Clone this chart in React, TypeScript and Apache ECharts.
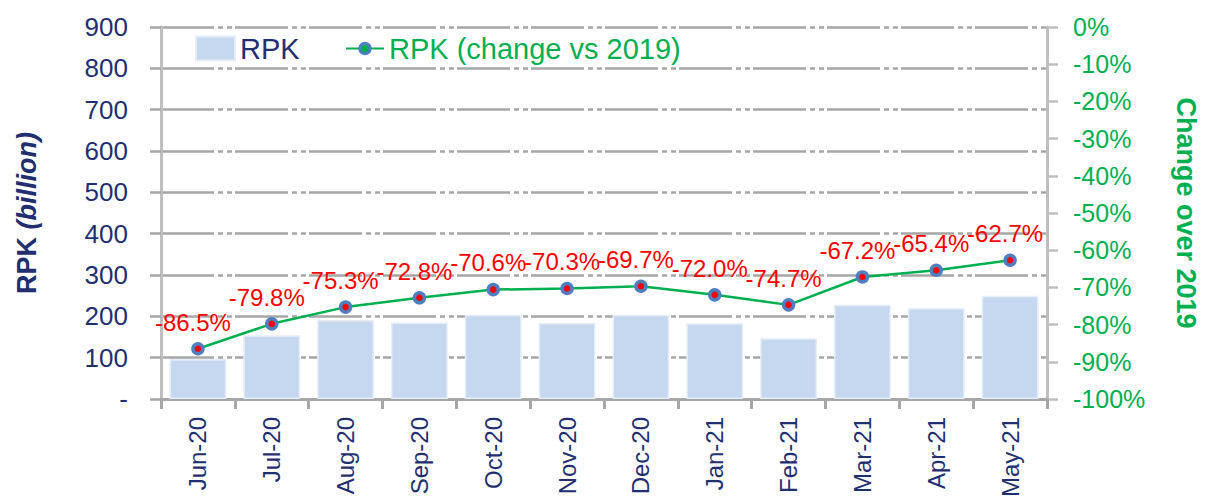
import React, { useEffect, useRef } from "react";
import * as echarts from "echarts";

const categories = ["Jun-20", "Jul-20", "Aug-20", "Sep-20", "Oct-20", "Nov-20", "Dec-20", "Jan-21", "Feb-21", "Mar-21", "Apr-21", "May-21"];
const rpkValues = [97, 154, 191, 185, 204, 184, 204, 183, 147, 228, 220, 250];
const changeVs2019 = [-86.5, -79.8, -75.3, -72.8, -70.6, -70.3, -69.7, -72.0, -74.7, -67.2, -65.4, -62.7];
const barName = "RPK";
const lineName = "RPK (change vs 2019)";
const leftAxisName = "RPK {i|(billion)}";
const rightAxisName = "Change over 2019";

const FONT = "Liberation Sans, Arial, sans-serif";
const NAVY = "#1f2f6f";
const GREEN = "#00b050";
const RED = "#ff0000";
const MARKER_BLUE = "#4f7fc0";
const BAR = "#c6d8f0";

export default function App() {
  const ref = useRef<HTMLDivElement>(null);
  useEffect(() => {
    if (!ref.current) return;
    const chart = echarts.init(ref.current, undefined, { renderer: "svg" });
    chart.setOption({
      animation: false,
      backgroundColor: "#ffffff",
      textStyle: { fontFamily: FONT },
      grid: { left: 161, right: 155, top: 27, bottom: 100, containLabel: false },
      legend: [
        {
          data: [{ name: barName, icon: "rect" }],
          left: 195,
          top: 34,
          padding: 0,
          itemWidth: 39,
          itemHeight: 24,
          textStyle: { fontSize: 29, color: NAVY, fontFamily: FONT },
          selectedMode: false,
        },
        {
          data: [
            {
              name: lineName,
              itemStyle: { color: GREEN, borderColor: MARKER_BLUE, borderWidth: 3 },
            },
          ],
          left: 345,
          top: 34,
          padding: 0,
          itemWidth: 38,
          itemHeight: 13,
          textStyle: { fontSize: 29, color: GREEN, fontFamily: FONT },
          selectedMode: false,
        },
      ],
      xAxis: {
        type: "category",
        data: categories,
        boundaryGap: true,
        axisLine: { show: true, lineStyle: { color: "#a6a6a6", width: 3 } },
        axisTick: { show: true, length: 10, lineStyle: { color: "#a6a6a6", width: 3 } },
        axisLabel: {
          rotate: 90,
          margin: 18,
          color: NAVY,
          fontSize: 24,
          fontFamily: FONT,
          interval: 0,
        },
        splitLine: { show: false },
      },
      yAxis: [
        {
          type: "value",
          min: 0,
          max: 900,
          interval: 100,
          position: "left",
          name: leftAxisName,
          nameLocation: "middle",
          nameRotate: 90,
          nameGap: 121,
          nameTextStyle: {
            fontSize: 27,
            fontWeight: "bold",
            color: NAVY,
            fontFamily: FONT,
            rich: {
              i: { fontSize: 27, fontWeight: "bold", fontStyle: "italic", color: NAVY, fontFamily: FONT },
            },
          },
          axisLine: { show: true, lineStyle: { color: "#bfbfbf", width: 3 } },
          axisTick: { show: true, length: 11, lineStyle: { color: "#a6a6a6", width: 2.5 } },
          axisLabel: {
            margin: 33,
            color: NAVY,
            fontSize: 26,
            fontFamily: FONT,
            formatter: (v: number) => (v === 0 ? "-" : String(v)),
          },
          splitLine: {
            show: true,
            lineStyle: { color: "#a6a6a6", width: 2.5, type: [53, 4, 5, 4, 5, 3] },
          },
        },
        {
          type: "value",
          min: -100,
          max: 0,
          interval: 10,
          position: "right",
          name: rightAxisName,
          nameLocation: "middle",
          nameRotate: -90,
          nameGap: 125,
          nameTextStyle: { fontSize: 27, fontWeight: "bold", color: GREEN, fontFamily: FONT },
          axisLine: { show: true, lineStyle: { color: "#bfbfbf", width: 3 } },
          axisTick: { show: true, length: 11, lineStyle: { color: "#bfbfbf", width: 2.5 } },
          axisLabel: {
            margin: 26,
            color: GREEN,
            fontSize: 25,
            fontFamily: FONT,
            formatter: (v: number) => `${v}%`,
          },
          splitLine: { show: false },
        },
      ],
      series: [
        {
          name: barName,
          type: "bar",
          yAxisIndex: 0,
          data: rpkValues,
          barWidth: "77%",
          itemStyle: { color: BAR, borderColor: "#e6edf8", borderWidth: 1.5 },
          z: 2,
        },
        {
          name: lineName,
          type: "line",
          yAxisIndex: 1,
          data: changeVs2019,
          symbol: "circle",
          symbolSize: 10,
          lineStyle: { color: GREEN, width: 2.5 },
          itemStyle: { color: RED, borderColor: MARKER_BLUE, borderWidth: 3.5 },
          label: {
            show: true,
            position: "top",
            distance: 10,
            offset: [-5, 2],
            color: RED,
            fontSize: 24,
            fontFamily: FONT,
            formatter: (p: any) => `${Number(p.value).toFixed(1)}%`,
          },
          z: 5,
        },
      ],
    });
    return () => chart.dispose();
  }, []);
  return (
    <div
      ref={ref}
      style={{ position: "fixed", left: 0, top: 0, width: 1207, height: 500, background: "#fff" }}
    />
  );
}
